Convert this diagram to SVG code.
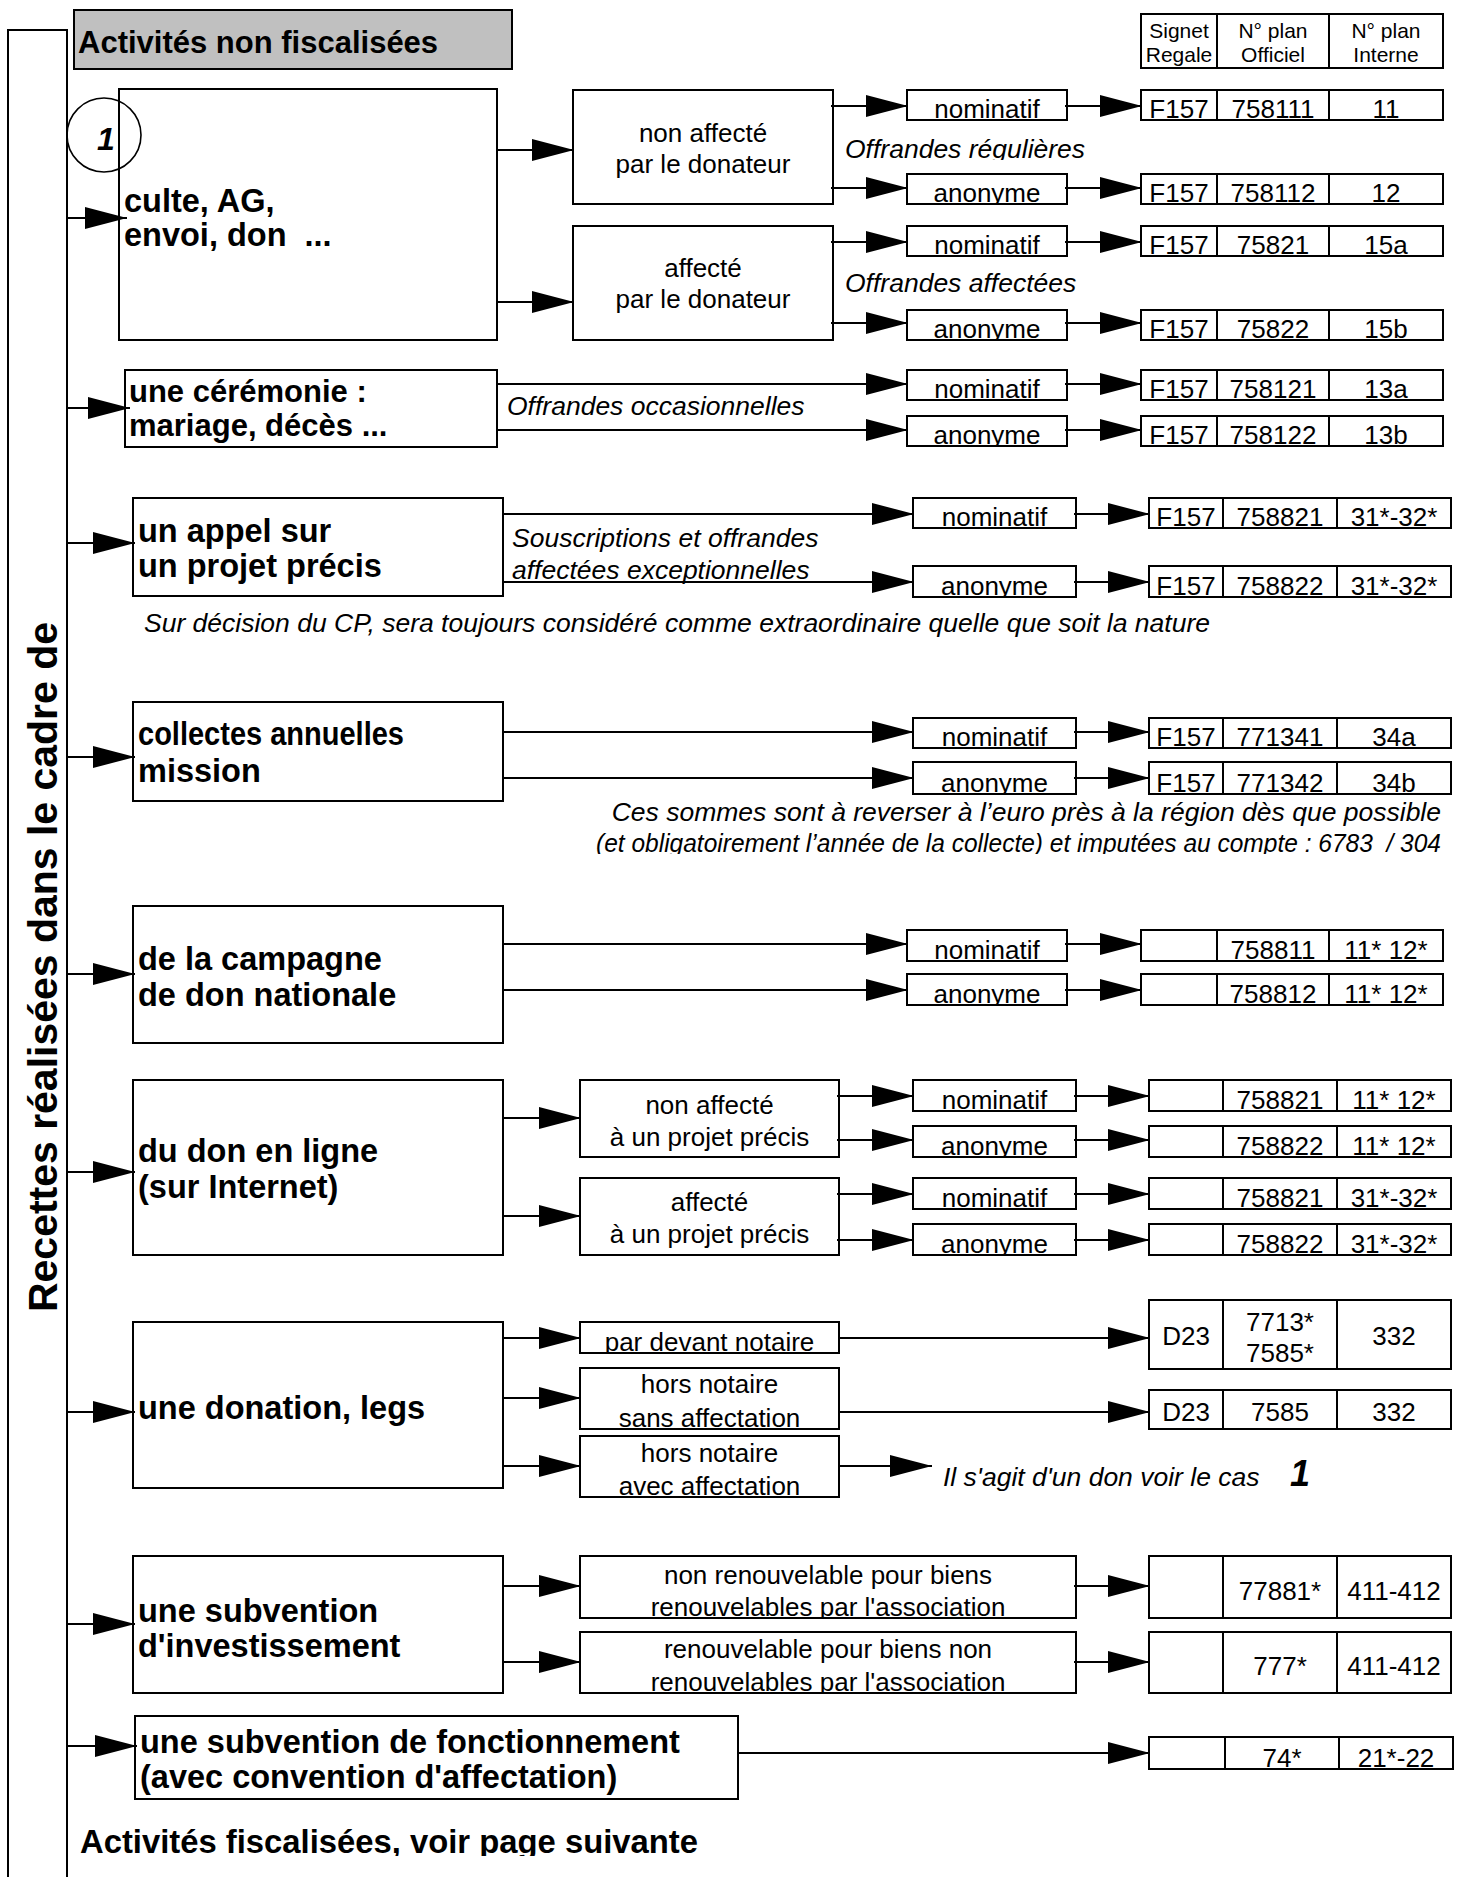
<svg xmlns="http://www.w3.org/2000/svg" width="1464" height="1877" viewBox="0 0 1464 1877">
<defs>
<style>
text{font-family:"Liberation Sans",Arial,Helvetica,sans-serif;fill:#000}
.r{font-size:26px}
.b{font-size:32.5px;font-weight:bold}
.i{font-size:26.5px;font-style:italic}
.s{font-size:21px}
.m{text-anchor:middle}
.e{text-anchor:end}
.box{fill:none;stroke:#000;stroke-width:2}
#connectors path{fill:none;stroke:#000;stroke-width:2;marker-end:url(#ah)}
</style>
<marker id="ah" markerUnits="userSpaceOnUse" markerWidth="44" markerHeight="24" refX="42" refY="12" orient="auto" overflow="visible">
<path d="M0,1 L42,12 L0,23 Z" fill="#000"/>
</marker>
</defs>
<rect x="0" y="0" width="1464" height="1877" fill="#fff"/>

<g id="frame">
<path d="M8,1880 V30 H67 V1880" fill="none" stroke="#000" stroke-width="2"/>
<text class="b m" transform="translate(57,967) rotate(-90)" style="font-size:41px" textLength="690" lengthAdjust="spacing">Recettes réalisées dans le cadre de</text>
</g>

<g id="title">
<rect x="74" y="10" width="438" height="59" fill="#c0c0c0" stroke="#000" stroke-width="2"/>
<text class="b" x="78" y="53" style="font-size:31px">Activités non fiscalisées</text>
</g>

<g id="col-header">
<rect class="box" x="1141" y="14" width="76" height="54"/>
<rect class="box" x="1217" y="14" width="112" height="54"/>
<rect class="box" x="1329" y="14" width="114" height="54"/>
<text class="s m" x="1179" y="38">Signet</text>
<text class="s m" x="1179" y="62">Regale</text>
<text class="s m" x="1273" y="38">N° plan</text>
<text class="s m" x="1273" y="62">Officiel</text>
<text class="s m" x="1386" y="38">N° plan</text>
<text class="s m" x="1386" y="62">Interne</text>
</g>

<g id="culte">
<rect class="box" x="119" y="89" width="378" height="251"/>
<circle cx="104" cy="135" r="37" fill="none" stroke="#000" stroke-width="1.6"/>
<text class="b m" x="106" y="150" style="font-size:32px;font-style:italic">1</text>
<text class="b" x="124" y="212">culte, AG,</text>
<text class="b" x="124" y="246">envoi, don&#160; ...</text>
</g>
<g id="culte-non-affecte">
<rect class="box" x="573" y="90" width="260" height="114"/>
<text class="r m" x="703" y="142">non affecté</text>
<text class="r m" x="703" y="173">par le donateur</text>
</g>
<g id="culte-affecte">
<rect class="box" x="573" y="226" width="260" height="114"/>
<text class="r m" x="703" y="277">affecté</text>
<text class="r m" x="703" y="308">par le donateur</text>
</g>
<svg x="840" y="130" width="300" height="30" viewBox="840 130 300 30"><text class="i" x="845" y="158">Offrandes régulières</text></svg>
<text class="i" x="845" y="292">Offrandes affectées</text>

<g id="row-758111">
<rect class="box" x="907" y="90" width="160" height="30"/>
<rect class="box" x="1141" y="90" width="76" height="30"/>
<rect class="box" x="1217" y="90" width="112" height="30"/>
<rect class="box" x="1329" y="90" width="114" height="30"/>
<svg x="900" y="90" width="560" height="30" viewBox="900 90 560 30">
<text class="r m" x="987" y="118">nominatif</text><text class="r m" x="1179" y="118">F157</text><text class="r m" x="1273" y="118">758111</text><text class="r m" x="1386" y="118">11</text>
</svg>
</g>
<g id="row-758112">
<rect class="box" x="907" y="174" width="160" height="30"/>
<rect class="box" x="1141" y="174" width="76" height="30"/>
<rect class="box" x="1217" y="174" width="112" height="30"/>
<rect class="box" x="1329" y="174" width="114" height="30"/>
<svg x="900" y="174" width="560" height="30" viewBox="900 174 560 30">
<text class="r m" x="987" y="202">anonyme</text><text class="r m" x="1179" y="202">F157</text><text class="r m" x="1273" y="202">758112</text><text class="r m" x="1386" y="202">12</text>
</svg>
</g>
<g id="row-75821">
<rect class="box" x="907" y="226" width="160" height="30"/>
<rect class="box" x="1141" y="226" width="76" height="30"/>
<rect class="box" x="1217" y="226" width="112" height="30"/>
<rect class="box" x="1329" y="226" width="114" height="30"/>
<svg x="900" y="226" width="560" height="30" viewBox="900 226 560 30">
<text class="r m" x="987" y="254">nominatif</text><text class="r m" x="1179" y="254">F157</text><text class="r m" x="1273" y="254">75821</text><text class="r m" x="1386" y="254">15a</text>
</svg>
</g>
<g id="row-75822">
<rect class="box" x="907" y="310" width="160" height="30"/>
<rect class="box" x="1141" y="310" width="76" height="30"/>
<rect class="box" x="1217" y="310" width="112" height="30"/>
<rect class="box" x="1329" y="310" width="114" height="30"/>
<svg x="900" y="310" width="560" height="30" viewBox="900 310 560 30">
<text class="r m" x="987" y="338">anonyme</text><text class="r m" x="1179" y="338">F157</text><text class="r m" x="1273" y="338">75822</text><text class="r m" x="1386" y="338">15b</text>
</svg>
</g>

<g id="ceremonie">
<rect class="box" x="125" y="370" width="372" height="77"/>
<text class="b" x="129" y="402" style="font-size:31px">une cérémonie :</text>
<text class="b" x="129" y="436" style="font-size:31px">mariage, décès ...</text>
</g>
<text class="i" x="507" y="415">Offrandes occasionnelles</text>
<g id="row-758121">
<rect class="box" x="907" y="370" width="160" height="30"/>
<rect class="box" x="1141" y="370" width="76" height="30"/>
<rect class="box" x="1217" y="370" width="112" height="30"/>
<rect class="box" x="1329" y="370" width="114" height="30"/>
<svg x="900" y="370" width="560" height="30" viewBox="900 370 560 30">
<text class="r m" x="987" y="398">nominatif</text><text class="r m" x="1179" y="398">F157</text><text class="r m" x="1273" y="398">758121</text><text class="r m" x="1386" y="398">13a</text>
</svg>
</g>
<g id="row-758122">
<rect class="box" x="907" y="416" width="160" height="30"/>
<rect class="box" x="1141" y="416" width="76" height="30"/>
<rect class="box" x="1217" y="416" width="112" height="30"/>
<rect class="box" x="1329" y="416" width="114" height="30"/>
<svg x="900" y="416" width="560" height="30" viewBox="900 416 560 30">
<text class="r m" x="987" y="444">anonyme</text><text class="r m" x="1179" y="444">F157</text><text class="r m" x="1273" y="444">758122</text><text class="r m" x="1386" y="444">13b</text>
</svg>
</g>

<g id="appel">
<rect class="box" x="133" y="498" width="370" height="98"/>
<text class="b" x="138" y="542">un appel sur</text>
<text class="b" x="138" y="577">un projet précis</text>
</g>
<text class="i" x="512" y="547">Souscriptions et offrandes</text>
<text class="i" x="512" y="579">affectées exceptionnelles</text>
<text class="i" x="144" y="632">Sur décision du CP, sera toujours considéré comme extraordinaire quelle que soit la nature</text>
<g id="row-a-758821">
<rect class="box" x="913" y="498" width="163" height="30"/>
<rect class="box" x="1149" y="498" width="74" height="30"/>
<rect class="box" x="1223" y="498" width="114" height="30"/>
<rect class="box" x="1337" y="498" width="114" height="30"/>
<svg x="900" y="498" width="560" height="30" viewBox="900 498 560 30">
<text class="r m" x="994.5" y="526">nominatif</text><text class="r m" x="1186" y="526">F157</text><text class="r m" x="1280" y="526">758821</text><text class="r m" x="1394" y="526">31*-32*</text>
</svg>
</g>
<g id="row-a-758822">
<rect class="box" x="913" y="566" width="163" height="31"/>
<rect class="box" x="1149" y="566" width="74" height="31"/>
<rect class="box" x="1223" y="566" width="114" height="31"/>
<rect class="box" x="1337" y="566" width="114" height="31"/>
<svg x="900" y="566" width="560" height="31" viewBox="900 566 560 31">
<text class="r m" x="994.5" y="595">anonyme</text><text class="r m" x="1186" y="595">F157</text><text class="r m" x="1280" y="595">758822</text><text class="r m" x="1394" y="595">31*-32*</text>
</svg>
</g>

<g id="collectes">
<rect class="box" x="133" y="702" width="370" height="99"/>
<text class="b" x="138" y="745" textLength="266" lengthAdjust="spacingAndGlyphs">collectes annuelles</text>
<text class="b" x="138" y="782">mission</text>
</g>
<g id="row-771341">
<rect class="box" x="913" y="718" width="163" height="30"/>
<rect class="box" x="1149" y="718" width="74" height="30"/>
<rect class="box" x="1223" y="718" width="114" height="30"/>
<rect class="box" x="1337" y="718" width="114" height="30"/>
<svg x="900" y="718" width="560" height="30" viewBox="900 718 560 30">
<text class="r m" x="994.5" y="746">nominatif</text><text class="r m" x="1186" y="746">F157</text><text class="r m" x="1280" y="746">771341</text><text class="r m" x="1394" y="746">34a</text>
</svg>
</g>
<g id="row-771342">
<rect class="box" x="913" y="762" width="163" height="32"/>
<rect class="box" x="1149" y="762" width="74" height="32"/>
<rect class="box" x="1223" y="762" width="114" height="32"/>
<rect class="box" x="1337" y="762" width="114" height="32"/>
<svg x="900" y="762" width="560" height="32" viewBox="900 762 560 32">
<text class="r m" x="994.5" y="792">anonyme</text><text class="r m" x="1186" y="792">F157</text><text class="r m" x="1280" y="792">771342</text><text class="r m" x="1394" y="792">34b</text>
</svg>
</g>
<text class="i e" x="1441" y="821">Ces sommes sont à reverser à l’euro près à la région dès que possible</text>
<svg x="560" y="826" width="900" height="28" viewBox="560 826 900 28"><text class="i" x="596" y="852" textLength="845" lengthAdjust="spacingAndGlyphs">(et obligatoirement l’année de la collecte) et imputées au compte : 6783 &#160;/ 304</text></svg>

<g id="campagne">
<rect class="box" x="133" y="906" width="370" height="137"/>
<text class="b" x="138" y="970">de la campagne</text>
<text class="b" x="138" y="1006">de don nationale</text>
</g>
<g id="row-758811">
<rect class="box" x="907" y="930" width="160" height="31"/>
<rect class="box" x="1141" y="930" width="76" height="31"/>
<rect class="box" x="1217" y="930" width="112" height="31"/>
<rect class="box" x="1329" y="930" width="114" height="31"/>
<svg x="900" y="930" width="560" height="31" viewBox="900 930 560 31">
<text class="r m" x="987" y="959">nominatif</text><text class="r m" x="1273" y="959">758811</text><text class="r m" x="1386" y="959">11* 12*</text>
</svg>
</g>
<g id="row-758812">
<rect class="box" x="907" y="974" width="160" height="31"/>
<rect class="box" x="1141" y="974" width="76" height="31"/>
<rect class="box" x="1217" y="974" width="112" height="31"/>
<rect class="box" x="1329" y="974" width="114" height="31"/>
<svg x="900" y="974" width="560" height="31" viewBox="900 974 560 31">
<text class="r m" x="987" y="1003">anonyme</text><text class="r m" x="1273" y="1003">758812</text><text class="r m" x="1386" y="1003">11* 12*</text>
</svg>
</g>

<g id="don-en-ligne">
<rect class="box" x="133" y="1080" width="370" height="175"/>
<text class="b" x="138" y="1162">du don en ligne</text>
<text class="b" x="138" y="1198">(sur Internet)</text>
</g>
<g id="ligne-non-affecte">
<rect class="box" x="580" y="1080" width="259" height="77"/>
<text class="r m" x="709.5" y="1114">non affecté</text>
<text class="r m" x="709.5" y="1146">à un projet précis</text>
</g>
<g id="ligne-affecte">
<rect class="box" x="580" y="1178" width="259" height="77"/>
<text class="r m" x="709.5" y="1211">affecté</text>
<text class="r m" x="709.5" y="1243">à un projet précis</text>
</g>
<g id="row-d1">
<rect class="box" x="913" y="1080" width="163" height="31"/>
<rect class="box" x="1149" y="1080" width="74" height="31"/>
<rect class="box" x="1223" y="1080" width="114" height="31"/>
<rect class="box" x="1337" y="1080" width="114" height="31"/>
<svg x="900" y="1080" width="560" height="31" viewBox="900 1080 560 31">
<text class="r m" x="994.5" y="1109">nominatif</text><text class="r m" x="1280" y="1109">758821</text><text class="r m" x="1394" y="1109">11* 12*</text>
</svg>
</g>
<g id="row-d2">
<rect class="box" x="913" y="1126" width="163" height="31"/>
<rect class="box" x="1149" y="1126" width="74" height="31"/>
<rect class="box" x="1223" y="1126" width="114" height="31"/>
<rect class="box" x="1337" y="1126" width="114" height="31"/>
<svg x="900" y="1126" width="560" height="31" viewBox="900 1126 560 31">
<text class="r m" x="994.5" y="1155">anonyme</text><text class="r m" x="1280" y="1155">758822</text><text class="r m" x="1394" y="1155">11* 12*</text>
</svg>
</g>
<g id="row-d3">
<rect class="box" x="913" y="1178" width="163" height="31"/>
<rect class="box" x="1149" y="1178" width="74" height="31"/>
<rect class="box" x="1223" y="1178" width="114" height="31"/>
<rect class="box" x="1337" y="1178" width="114" height="31"/>
<svg x="900" y="1178" width="560" height="31" viewBox="900 1178 560 31">
<text class="r m" x="994.5" y="1207">nominatif</text><text class="r m" x="1280" y="1207">758821</text><text class="r m" x="1394" y="1207">31*-32*</text>
</svg>
</g>
<g id="row-d4">
<rect class="box" x="913" y="1224" width="163" height="31"/>
<rect class="box" x="1149" y="1224" width="74" height="31"/>
<rect class="box" x="1223" y="1224" width="114" height="31"/>
<rect class="box" x="1337" y="1224" width="114" height="31"/>
<svg x="900" y="1224" width="560" height="31" viewBox="900 1224 560 31">
<text class="r m" x="994.5" y="1253">anonyme</text><text class="r m" x="1280" y="1253">758822</text><text class="r m" x="1394" y="1253">31*-32*</text>
</svg>
</g>

<g id="donation">
<rect class="box" x="133" y="1322" width="370" height="166"/>
<text class="b" x="138" y="1419">une donation, legs</text>
</g>
<g id="par-devant-notaire">
<rect class="box" x="580" y="1322" width="259" height="31"/>
<svg x="580" y="1322" width="259" height="31" viewBox="580 1322 259 31"><text class="r m" x="709.5" y="1351">par devant notaire</text></svg>
</g>
<g id="hors-notaire-sans">
<rect class="box" x="580" y="1368" width="259" height="61"/>
<svg x="580" y="1368" width="259" height="61" viewBox="580 1368 259 61"><text class="r m" x="709.5" y="1393">hors notaire</text><text class="r m" x="709.5" y="1427">sans affectation</text></svg>
</g>
<g id="hors-notaire-avec">
<rect class="box" x="580" y="1436" width="259" height="61"/>
<svg x="580" y="1436" width="259" height="61" viewBox="580 1436 259 61"><text class="r m" x="709.5" y="1462">hors notaire</text><text class="r m" x="709.5" y="1495">avec affectation</text></svg>
</g>
<g id="row-d23-a">
<rect class="box" x="1149" y="1300" width="74" height="69"/>
<rect class="box" x="1223" y="1300" width="114" height="69"/>
<rect class="box" x="1337" y="1300" width="114" height="69"/>
<text class="r m" x="1186" y="1345">D23</text>
<text class="r m" x="1280" y="1331">7713*</text>
<text class="r m" x="1280" y="1362">7585*</text>
<text class="r m" x="1394" y="1345">332</text>
</g>
<g id="row-d23-b">
<rect class="box" x="1149" y="1390" width="74" height="39"/>
<rect class="box" x="1223" y="1390" width="114" height="39"/>
<rect class="box" x="1337" y="1390" width="114" height="39"/>
<text class="r m" x="1186" y="1421">D23</text>
<text class="r m" x="1280" y="1421">7585</text>
<text class="r m" x="1394" y="1421">332</text>
</g>
<g id="note-cas-1">
<text class="i" x="943" y="1486">Il s'agit d'un don voir le cas</text>
<text class="b" x="1290" y="1486" style="font-size:36px;font-style:italic">1</text>
</g>

<g id="subvention-invest">
<rect class="box" x="133" y="1556" width="370" height="137"/>
<text class="b" x="138" y="1622">une subvention</text>
<text class="b" x="138" y="1657">d'investissement</text>
</g>
<g id="non-renouvelable">
<rect class="box" x="580" y="1556" width="496" height="62"/>
<svg x="580" y="1556" width="496" height="62" viewBox="580 1556 496 62"><text class="r m" x="828" y="1584">non renouvelable pour biens</text><text class="r m" x="828" y="1616">renouvelables par l'association</text></svg>
</g>
<g id="renouvelable">
<rect class="box" x="580" y="1632" width="496" height="61"/>
<svg x="580" y="1632" width="496" height="61" viewBox="580 1632 496 61"><text class="r m" x="828" y="1658">renouvelable pour biens non</text><text class="r m" x="828" y="1691">renouvelables par l'association</text></svg>
</g>
<g id="row-77881">
<rect class="box" x="1149" y="1556" width="74" height="62"/>
<rect class="box" x="1223" y="1556" width="114" height="62"/>
<rect class="box" x="1337" y="1556" width="114" height="62"/>
<text class="r m" x="1280" y="1600">77881*</text>
<text class="r m" x="1394" y="1600">411-412</text>
</g>
<g id="row-777">
<rect class="box" x="1149" y="1632" width="74" height="61"/>
<rect class="box" x="1223" y="1632" width="114" height="61"/>
<rect class="box" x="1337" y="1632" width="114" height="61"/>
<text class="r m" x="1280" y="1675">777*</text>
<text class="r m" x="1394" y="1675">411-412</text>
</g>

<g id="subvention-fonctionnement">
<rect class="box" x="135" y="1716" width="603" height="83"/>
<text class="b" x="140" y="1753">une subvention de fonctionnement</text>
<text class="b" x="140" y="1788">(avec convention d'affectation)</text>
</g>
<g id="row-74">
<rect class="box" x="1149" y="1737" width="76" height="32"/>
<rect class="box" x="1225" y="1737" width="114" height="32"/>
<rect class="box" x="1339" y="1737" width="114" height="32"/>
<svg x="1149" y="1737" width="310" height="32" viewBox="1149 1737 310 32"><text class="r m" x="1282" y="1767">74*</text><text class="r m" x="1396" y="1767">21*-22</text></svg>
</g>

<g id="footer">
<svg x="70" y="1815" width="700" height="41" viewBox="70 1815 700 41"><text class="b" x="80" y="1853" style="font-size:32.8px">Activités fiscalisées, voir page suivante</text></svg>
</g>

<g id="connectors">
<path d="M67,218 H127"/>
<path d="M67,408 H130"/>
<path d="M67,543 H135"/>
<path d="M67,757 H135"/>
<path d="M67,974 H135"/>
<path d="M67,1172 H135"/>
<path d="M67,1412 H135"/>
<path d="M67,1624 H135"/>
<path d="M67,1746 H137"/>
<path d="M497,150 H574"/>
<path d="M497,302 H574"/>
<path d="M831,106 H908"/>
<path d="M831,188 H908"/>
<path d="M831,242 H908"/>
<path d="M831,323 H908"/>
<path d="M497,384 H908"/>
<path d="M497,430 H908"/>
<path d="M1065,106 H1142"/>
<path d="M1065,188 H1142"/>
<path d="M1065,242 H1142"/>
<path d="M1065,323 H1142"/>
<path d="M1065,384 H1142"/>
<path d="M1065,430 H1142"/>
<path d="M503,514 H914"/>
<path d="M503,582 H914"/>
<path d="M1074,514 H1150"/>
<path d="M1074,582 H1150"/>
<path d="M503,732 H914"/>
<path d="M503,778 H914"/>
<path d="M1074,732 H1150"/>
<path d="M1074,778 H1150"/>
<path d="M503,944 H908"/>
<path d="M503,990 H908"/>
<path d="M1065,944 H1142"/>
<path d="M1065,990 H1142"/>
<path d="M503,1118 H581"/>
<path d="M503,1216 H581"/>
<path d="M837,1096 H914"/>
<path d="M837,1140 H914"/>
<path d="M837,1194 H914"/>
<path d="M837,1240 H914"/>
<path d="M1074,1096 H1150"/>
<path d="M1074,1140 H1150"/>
<path d="M1074,1194 H1150"/>
<path d="M1074,1240 H1150"/>
<path d="M503,1338 H581"/>
<path d="M503,1398 H581"/>
<path d="M503,1466 H581"/>
<path d="M839,1338 H1150"/>
<path d="M839,1412 H1150"/>
<path d="M839,1466 H932"/>
<path d="M503,1586 H581"/>
<path d="M503,1662 H581"/>
<path d="M1074,1586 H1150"/>
<path d="M1074,1662 H1150"/>
<path d="M738,1753 H1150"/>
</g>
</svg>
